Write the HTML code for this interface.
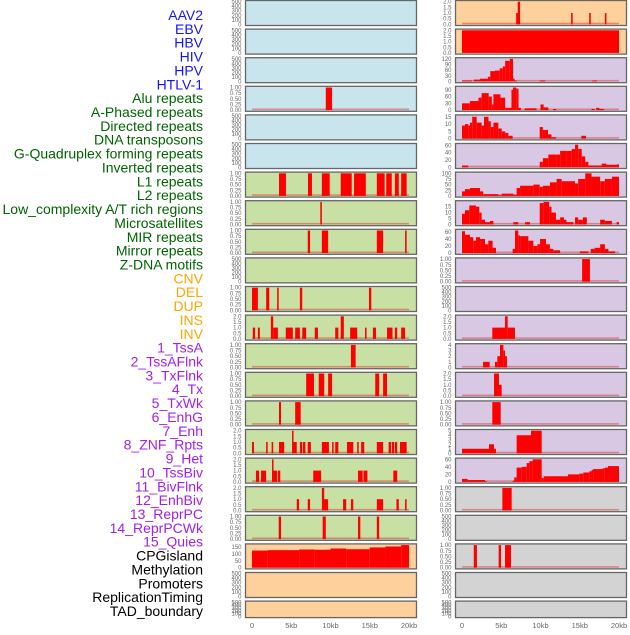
<!DOCTYPE html>
<html><head><meta charset="utf-8"><style>
body{margin:0;background:#fff;width:630px;height:630px;overflow:hidden;font-family:"Liberation Sans",sans-serif}
</style></head><body>
<svg id="chart" width="630" height="630" xmlns="http://www.w3.org/2000/svg" font-family="Liberation Sans, sans-serif"></svg>
<script>
const labelNames=["AAV2","EBV","HBV","HIV","HPV","HTLV-1","Alu repeats","A-Phased repeats","Directed repeats","DNA transposons","G-Quadruplex forming repeats","Inverted repeats","L1 repeats","L2 repeats","Low_complexity A/T rich regions","Microsatellites","MIR repeats","Mirror repeats","Z-DNA motifs","CNV","DEL","DUP","INS","INV","1_TssA","2_TssAFlnk","3_TxFlnk","4_Tx","5_TxWk","6_EnhG","7_Enh","8_ZNF_Rpts","9_Het","10_TssBiv","11_BivFlnk","12_EnhBiv","13_ReprPC","14_ReprPCWk","15_Quies","CPGisland","Methylation","Promoters","ReplicationTiming","TAD_boundary"];
const labelColors=["#1414ff","#1414ff","#1414ff","#1414ff","#1414ff","#1414ff","#006400","#006400","#006400","#006400","#006400","#006400","#006400","#006400","#006400","#006400","#006400","#006400","#006400","#ffa500","#ffa500","#ffa500","#ffa500","#ffa500","#a020f0","#a020f0","#a020f0","#a020f0","#a020f0","#a020f0","#a020f0","#a020f0","#a020f0","#a020f0","#a020f0","#a020f0","#a020f0","#a020f0","#a020f0","#000","#000","#000","#000","#000"];
const xTicks=[0,5,10,15,20];
const xTickLabels=["0","5kb","10kb","15kb","20kb"];
const leftBg=["#c8e4ec","#c8e4ec","#c8e4ec","#c8e4ec","#c8e4ec","#c8e4ec","#c8e0a4","#c8e0a4","#c8e0a4","#c8e0a4","#c8e0a4","#c8e0a4","#c8e0a4","#c8e0a4","#c8e0a4","#c8e0a4","#c8e0a4","#c8e0a4","#c8e0a4","#fdd09c","#fdd09c","#fdd09c"];
const rightBg=["#fdd09c","#fdd09c","#d8c8e4","#d8c8e4","#d8c8e4","#d8c8e4","#d8c8e4","#d8c8e4","#d8c8e4","#d8c8e4","#d8c8e4","#d8c8e4","#d8c8e4","#d8c8e4","#d8c8e4","#d8c8e4","#d8c8e4","#d3d3d3","#d3d3d3","#d3d3d3","#d3d3d3","#d3d3d3"];
const leftYMax=[500,500,500,1,500,500,1,1,1,500,1,2,1,1,1,2,2,2,1,165,500,500];
const rightYMax=[2,2,120,100,15.5,62,100,19,64,1,500,2,4,2,1,5,60,1,500,1,500,500];
const leftBars=[
[],[],[],
[[9.4,10.2,1]],
[],[],
[[3.44,4.33,1],[7.13,7.64,1],[8.9,9.9,1],[11.3,12.7,1],[13.0,14.5,1],[15.9,16.9,1],[17.1,17.8,1],[18.2,18.7,1],[19.0,19.7,1]],
[[8.7,8.9,1]],
[[7.1,7.4,1],[8.9,9.7,1],[15.9,16.7,1],[19.5,19.7,1]],
[],
[[0,0.75,1],[1.8,2.2,1],[3.2,3.4,1],[6.1,6.4,1],[14.9,15.2,1]],
[[0.1,0.4,1],[0.75,1.0,1],[2.4,2.7,2],[2.7,3.3,1],[4.3,5.2,1],[5.5,6.1,1],[6.4,6.9,1],[8.0,8.4,1],[10.6,11.0,1],[11.3,11.7,2],[12.5,13.4,1],[14.4,14.6,1],[15.4,15.8,1],[17.2,17.9,1],[18.2,18.5,1],[19.0,19.5,1]],
[[12.6,13.2,1]],
[[6.9,7.9,1],[8.5,9.2,1],[9.7,10.2,1],[15.7,16.2,1],[16.7,17.2,1]],
[[3.44,3.7,1],[5.5,6.2,1]],
[[0,0.25,1],[1.8,2.0,1],[2.5,2.7,1],[3.44,4.1,1],[5.1,5.2,2],[5.2,5.7,1],[6.1,6.4,1],[6.5,6.8,1],[7.1,7.5,1],[8.9,9.8,1],[10.2,10.4,1],[10.6,11.0,1],[12.1,12.9,1],[13.4,13.6,1],[13.9,14.3,1],[15.9,16.7,1],[17.4,17.7,1],[17.8,18.1,1],[18.2,18.5,1],[18.85,19.7,1]],
[[0.5,0.9,1],[1.15,1.8,1],[2.55,2.7,2],[2.55,3.2,1],[3.3,3.6,1],[7.8,8.8,1],[13.5,14.1,1],[14.2,14.7,1],[18.0,18.5,1]],
[[5.7,6.0,1],[7.1,7.4,1],[8.9,9.2,2],[9.0,9.7,1],[11.6,12.0,1],[12.6,12.9,1],[15.9,16.7,1],[18.4,18.7,1],[19.5,19.7,1]],
[[3.4,3.7,1],[9.0,9.4,1],[13.5,13.8,1],[15.9,16.2,1]],
[[0,2,125],[2,6,128],[6,8,133],[8,10,131],[10,12,140],[12,15,135],[15,17,148],[17,19,155],[19,20,168]],
[],[]
];
const rightBars=[
[[6.9,7.3,1],[7.1,7.4,2],[13.9,14.1,1],[16.2,16.4,1],[18.2,18.4,1]],
[[0,20,2]],
[[0,1.3,5],[1.5,2.3,10],[2.3,3.3,15],[3.3,3.6,25],[3.6,4.2,55],[4.2,4.8,58],[4.8,5.2,70],[5.2,5.5,80],[5.5,6.1,110],[6.1,6.5,120],[6.5,6.7,15],[6.7,7.0,5],[9.9,10.6,5],[16.6,17.2,5]],
[[0,1.0,30],[1.0,2.1,40],[2.1,2.5,55],[2.5,3.4,75],[3.4,3.8,60],[3.8,4.0,25],[4.0,4.9,70],[4.9,5.5,55],[5.5,6.3,10],[6.3,6.5,90],[6.5,6.9,110],[6.9,7.2,95],[7.2,7.5,10],[8.0,9.5,8],[10.0,10.4,25],[10.4,11.0,12],[11.6,12.0,5],[16.5,16.9,5],[17.1,17.5,10],[17.5,18.1,5]],
[[0,0.38,9],[0.38,0.8,10],[0.8,1.02,9],[1.02,1.3,11],[1.3,1.87,15],[1.87,2.5,11],[2.5,2.8,9],[2.8,3.37,15],[3.37,3.67,12],[3.67,4.0,8],[4.0,4.63,11],[4.63,5.06,7],[5.06,5.5,5],[5.5,5.9,4],[5.9,6.45,2],[9.9,10.3,8],[10.3,10.96,6],[10.96,11.4,3],[11.4,12.0,1],[15.2,15.8,2]],
[[0,0.8,5],[9.9,10.3,15],[10.3,11.0,25],[11.0,12.05,35],[12.05,12.5,35],[12.5,13.3,45],[13.3,13.97,45],[13.97,14.4,50],[14.4,14.8,62],[14.8,15.25,50],[15.25,15.7,30],[15.7,16.1,15],[16.1,17.8,5],[17.8,18.4,10],[18.4,19.7,7],[19.7,20,8]],
[[0,0.38,20],[0.38,1.02,30],[1.02,2.3,35],[2.3,2.7,20],[2.7,4.63,8],[4.63,5.06,3],[5.06,6.54,10],[6.54,6.96,5],[6.96,7.4,35],[7.4,9.09,45],[9.09,9.9,50],[9.9,10.3,40],[10.3,11.2,45],[11.2,12.05,60],[12.05,12.7,75],[12.7,14.4,65],[14.4,14.8,55],[14.8,15.7,75],[15.7,16.5,100],[16.5,17.6,85],[17.6,18.2,65],[18.2,19.1,75],[19.1,20,85]],
[[0,0.38,9],[0.38,0.93,12],[0.93,1.78,16],[1.78,2.2,15],[2.2,2.5,10],[2.5,2.93,4],[2.93,3.57,2],[3.57,4.0,3],[6.54,7.17,2],[8.03,8.66,2],[9.9,10.4,18],[10.4,11.1,19],[11.1,11.4,15],[11.4,11.97,10],[11.97,12.5,4],[12.5,12.99,6],[12.99,13.3,4],[13.3,14.2,2],[14.4,14.8,6],[14.8,15.4,4],[15.4,15.9,6],[17.6,18.2,4],[18.2,19.1,3],[19.7,20,2]],
[[0,0.38,62],[0.38,1.02,52],[1.02,1.44,45],[1.44,1.78,35],[1.78,2.3,45],[2.3,2.93,40],[2.93,3.35,25],[3.35,3.9,35],[3.9,4.33,15],[6.45,6.75,12],[6.75,7.17,75],[7.17,7.4,50],[7.4,8.45,48],[8.45,9.09,35],[9.09,9.6,20],[9.6,9.94,25],[9.94,10.7,40],[10.7,11.2,25],[11.2,11.63,12],[11.63,12.5,8],[15.0,16.1,5],[16.4,16.9,12],[16.9,17.6,15],[17.6,18.2,25],[18.2,18.65,12],[18.65,19.5,5]],
[[15.3,16.3,1]],
[],
[[3.86,5.48,1],[5.48,5.82,2],[5.82,6.75,1]],
[[2.68,3.52,1],[4.2,4.5,1],[4.5,4.84,2],[4.84,5.27,4],[5.27,5.48,3],[5.48,5.73,2]],
[[4.08,4.71,2],[4.71,5.05,1]],
[[3.86,4.93,1]],
[[0,3.44,1],[3.44,4.08,2],[4.08,4.33,1],[6.96,8.79,4],[8.79,10.15,5]],
[[0,0.72,8],[0.72,2.93,5],[2.93,3.15,2],[6.45,6.66,3],[6.66,6.96,12],[6.96,7.6,38],[7.6,8.24,40],[8.24,8.58,50],[8.58,9.0,55],[9.0,10.15,60],[10.15,10.4,10],[10.4,13.5,15],[13.5,14.95,20],[14.95,15.45,22],[15.45,16.2,25],[16.2,16.5,28],[16.5,16.7,32],[16.7,17.9,34],[17.9,18.2,36],[18.2,18.6,38],[18.6,20,42]],
[[5.14,6.33,1]],
[],
[[1.5,1.9,1],[4.67,4.97,1],[5.48,6.24,1]],
[],[]
];
const ticks1=[0,0.25,0.5,0.75,1], ticks1Labels=["0.00","0.25","0.50","0.75","1.00"];
const ticks2=[0,0.5,1,1.5,2], ticks2Labels=["0.0","0.5","1.0","1.5","2.0"];
const ticksEmpty=[0,100,200,300,400,500];
const rightCustomTicks={2:[0,30,60,90,120],3:[0,30,60,90],4:[0,5,10,15],5:[0,20,40,60],6:[0,25,50,75,100],7:[0,5,10,15],8:[0,20,40,60],12:[0,1,2,3,4],15:[0,1,2,3,4,5],16:[0,20,40,60]};
const leftCustomTicks={19:[0,50,100,150]};

const NS="http://www.w3.org/2000/svg";
const svg=document.getElementById('chart');
function mk(tag,attrs,parent){const e=document.createElementNS(NS,tag);for(const k in attrs)e.setAttribute(k,attrs[k]);(parent||svg).appendChild(e);return e;}

// labels
labelNames.forEach((t,i)=>{
  const y=15+i*(596/43);
  const el=mk('text',{x:203,y:y+5,'text-anchor':'end','font-size':'14',fill:labelColors[i]});
  el.textContent=t;
  
  
});

const pitch=28.6;
function drawColumn(side,px0,pxData0,bgs,ymaxs,bars,custom){
  const xScale=kb=>pxData0+kb*7.85;
  for(let i=0;i<22;i++){
    const top=i*pitch+0.5, h=(i===21)?16.5:25;
    const g=mk('g',{});
    
    
    const bg=mk('rect',{x:px0,y:top,width:171,height:h,fill:bgs[i],stroke:'#666','stroke-width':1.3},g);
    const ymax=ymaxs[i];
    const y0=top+h-1.2, y1=top+1.2;
    const yScale=v=>y0-(Math.min(v,ymax)/ymax)*(y0-y1);
    let tks,tls;
    if(custom[i]){tks=custom[i];tls=tks.map(String);}
    else if(ymax===1){tks=ticks1;tls=ticks1Labels;}
    else if(ymax===2){tks=ticks2;tls=ticks2Labels;}
    else {tks=ticksEmpty;tls=tks.map(String);}
    tks.forEach((t,k)=>{
      const tx=mk('text',{x:px0-4,y:yScale(t)+2,'text-anchor':'end','font-size':'6',fill:'#666'},g);
      tx.textContent=tls[k];
      
      
    });
    if(bars[i].length){
      const bl=mk('rect',{x:xScale(0),y:y0-1.6,width:xScale(20)-xScale(0),height:1.6,fill:'rgba(220,40,40,0.45)'},g);
      
      
    }
    bars[i].forEach(b=>{
      const yt=yScale(b[2]);
      const r=mk('rect',{x:xScale(b[0]),y:yt,width:Math.max(xScale(b[1])-xScale(b[0]),1.5),height:y0-yt,fill:'#ff0000'},g);
      
      
    });
  }
  xTicks.forEach((t,k)=>{
    const tx=mk('text',{x:xScale(t),y:628,'text-anchor':'middle','font-size':'7.5',fill:'#666'});
    tx.textContent=xTickLabels[k];
    
    
  });
}
drawColumn('left',245.5,252,leftBg,leftYMax,leftBars,leftCustomTicks);
drawColumn('right',455.5,462,rightBg,rightYMax,rightBars,rightCustomTicks);
</script>
</body></html>
